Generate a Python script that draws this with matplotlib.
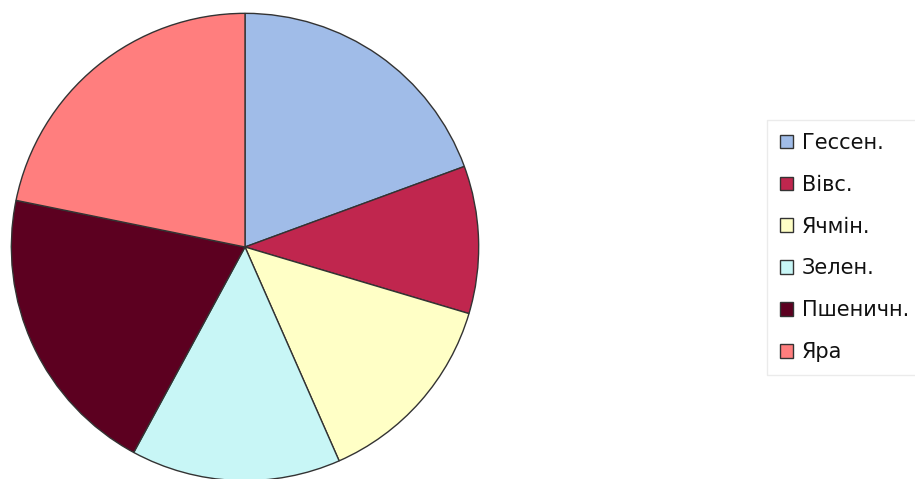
import matplotlib
matplotlib.use("Agg")
import matplotlib.pyplot as plt
from matplotlib.patches import Patch

labels = ["Гессен.", "Вівс.", "Ячмін.", "Зелен.", "Пшеничн.", "Яра"]
values = [19.4, 10.2, 13.8, 14.5, 20.3, 21.8]
colors = ["#A0BCE8", "#C0264E", "#FFFFC6", "#C8F6F6", "#5C0020", "#FF7E7E"]

plt.rcParams['font.family'] = ['DejaVu Sans']

W, H = 915, 479
fig = plt.figure(figsize=(W / 100, H / 100), dpi=100)
cx, cy, r = 245, 247, 236
ax = fig.add_axes([(cx - r) / W, (H - cy - r) / H, 2 * r / W, 2 * r / H])
ax.pie(values, colors=colors, startangle=90, counterclock=False,
       wedgeprops=dict(edgecolor="#333333", linewidth=1.0), radius=1.0)
ax.set_xlim(-1.01, 1.01)
ax.set_ylim(-1.01, 1.01)
ax.set_aspect('equal')
ax.axis('off')

handles = [Patch(facecolor=c, edgecolor="#333333", linewidth=1.0) for c in colors]
leg = fig.legend(handles, labels, loc='center left',
                 bbox_to_anchor=(767 / W, 1 - 247.5 / H),
                 fontsize=15, frameon=True, fancybox=False,
                 handlelength=0.63, handleheight=0.63, handletextpad=0.45,
                 labelspacing=1.05, borderpad=0.6, borderaxespad=0)
leg.get_frame().set_edgecolor("#E6E6E6")
leg.get_frame().set_linewidth(1.0)
for t in leg.get_texts():
    t.set_color("#111111")

fig.savefig("out.png", dpi=100)
